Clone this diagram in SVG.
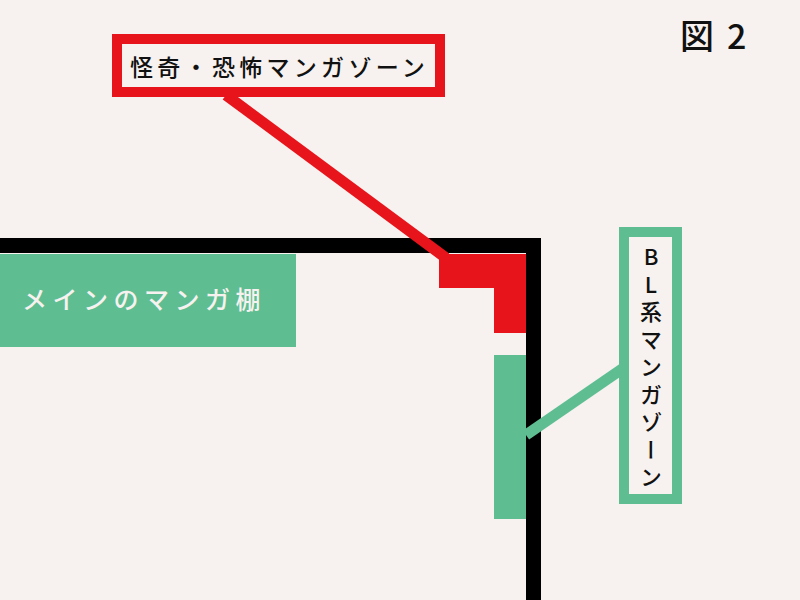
<svg xmlns="http://www.w3.org/2000/svg" width="800" height="600" viewBox="0 0 800 600">
<style>
.jp{font-family:"Noto Sans CJK JP","Noto Sans",sans-serif;font-weight:500;}
.red{fill:#e8141c;}
.grn{fill:#5ebe92;}
.redbox{fill:#f7f2ef;stroke:#e8141c;stroke-width:10;}
.grnbox{fill:#f7f2ef;stroke:#5ebe92;stroke-width:10;}
</style>
<rect width="800" height="600" fill="#f7f2ef"/>
<g id="wall">
<path d="M0,238 H541 V600 H526 V253 H0 Z" fill="#000"/>
</g>
<g id="connectors">
<line x1="226" y1="95" x2="446" y2="258" stroke="#e8141c" stroke-width="11"/>
<line x1="526" y1="435" x2="622" y2="369" stroke="#5ebe92" stroke-width="11"/>
</g>
<g id="horror-zone">
<path class="red" d="M439,254 H526 V333 H494 V288 H439 Z"/>
</g>
<g id="bl-zone">
<rect class="grn" x="494" y="355" width="32" height="164"/>
</g>
<g id="main-shelf">
<rect class="grn" x="0" y="254" width="296" height="93"/>
<text class="jp" x="22" y="309" font-size="25" letter-spacing="5.5" fill="#f7f2ef">メインのマンガ棚</text>
</g>
<g id="horror-label">
<rect class="redbox" x="117" y="39" width="323" height="53"/>
<text class="jp" x="130" y="76" font-size="23" letter-spacing="4.3" fill="#111">怪奇・恐怖マンガゾーン</text>
</g>
<g id="bl-label">
<rect class="grnbox" x="624" y="232" width="53" height="267"/>
<text class="jp" x="651" y="246" font-size="22" letter-spacing="5.5" fill="#111" style="writing-mode:vertical-rl;text-orientation:upright;">BL系マンガゾーン</text>
</g>
<g id="title">
<text class="jp" y="49" font-size="34" font-weight="bold" fill="#111"><tspan x="680">図</tspan><tspan x="727">2</tspan></text>
</g>
</svg>
